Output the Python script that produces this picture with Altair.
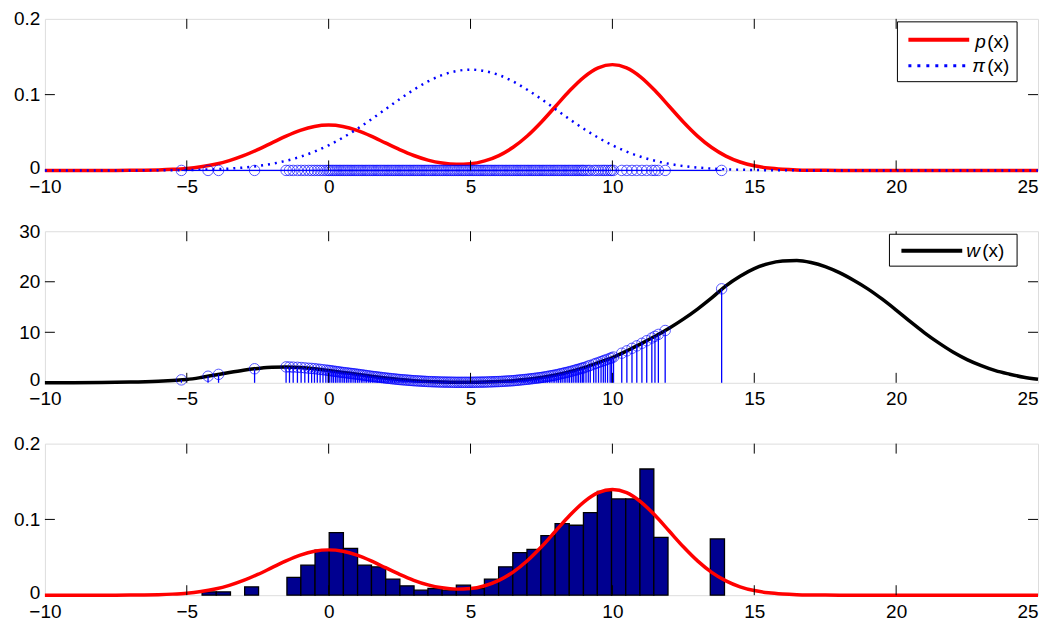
import altair as alt
import pandas as pd

FONT = "Liberation Sans"

# ---------------- data ----------------
x_tick_labels = [-10, -5, 0, 5, 10, 15, 20, 25]
x_inner_ticks = [-5, 0, 5, 10, 15, 20]
y1_tick_labels = [0, 0.1, 0.2]
y1_inner_ticks = [0.1]
y2_tick_labels = [0, 10, 20, 30]
y2_inner_ticks = [10, 20]

curve_x = [-10, -8, -7.5, -7, -6.5, -6, -5.5, -5, -4.5, -4, -3.5, -3, -2.5, -2,
           -1.5, -1, -0.5, 0, 0.5, 1, 1.5, 2, 2.5, 3, 3.5, 4, 4.5, 5, 5.5, 6,
           6.5, 7, 7.5, 8, 8.5, 9, 9.5, 10, 10.5, 11, 11.5, 12, 12.5, 13, 13.5,
           14, 14.5, 15, 15.5, 16, 16.5, 17, 17.5, 18, 20, 25]
p_vals = [0, 0, 0.0, 0.0001, 0.0003, 0.0007, 0.0014, 0.0026, 0.0048, 0.0081,
          0.0129, 0.0194, 0.0274, 0.0363, 0.0452, 0.0528, 0.0580, 0.0598, 0.0580,
          0.0528, 0.0452, 0.0363, 0.0275, 0.0197, 0.0136, 0.0097, 0.0080, 0.0087,
          0.0125, 0.0196, 0.0305, 0.0454, 0.0639, 0.0847, 0.1054, 0.1232, 0.1353,
          0.1396, 0.1353, 0.1232, 0.1054, 0.0847, 0.0639, 0.0453, 0.0302, 0.0189,
          0.0111, 0.0061, 0.0032, 0.0016, 0.0007, 0.0003, 0.0001, 0, 0, 0]
pi_vals = [0, 0, 0, 0, 0.0001, 0.0002, 0.0003, 0.0005, 0.0009, 0.0015, 0.0024,
           0.0038, 0.0058, 0.0087, 0.0127, 0.0180, 0.0248, 0.0332, 0.0432, 0.0547,
           0.0673, 0.0807, 0.0940, 0.1065, 0.1174, 0.1258, 0.1311, 0.1330, 0.1311,
           0.1258, 0.1174, 0.1065, 0.0940, 0.0807, 0.0673, 0.0547, 0.0432, 0.0332,
           0.0248, 0.0180, 0.0127, 0.0087, 0.0058, 0.0038, 0.0024, 0.0015, 0.0009,
           0.0005, 0.0003, 0.0002, 0.0001, 0, 0, 0, 0, 0]

w_x = [-10, -9, -8, -7, -6, -5.5, -5, -4.5, -4, -3.5, -3, -2.5, -2, -1.5, -1,
       -0.5, 0, 0.5, 1, 1.5, 2, 2.5, 3, 3.5, 4, 4.5, 5, 5.5, 6, 6.5, 7, 7.5, 8,
       8.5, 9, 9.5, 10, 10.5, 11, 11.5, 12, 12.5, 13, 13.5, 14, 14.5, 15, 15.5,
       16, 16.5, 17, 17.5, 18, 18.5, 19, 19.5, 20, 20.5, 21, 21.5, 22, 22.5, 23,
       23.5, 24, 24.5, 25]
w_vals = [0.0, 0.02, 0.06, 0.15, 0.33, 0.47, 0.65, 1.05, 1.55, 2.05, 2.5, 2.85,
          3.1, 3.15, 3.05, 2.8, 2.45, 2.05, 1.7, 1.3, 0.95, 0.65, 0.42, 0.25, 0.15,
          0.1, 0.1, 0.15, 0.25, 0.42, 0.7, 1.05, 1.55, 2.2, 3.0, 4.0, 5.0, 6.3, 7.7,
          9.2, 10.8, 12.6, 14.6, 16.8, 19.2, 21.1, 22.6, 23.6, 24.1, 24.2, 23.8,
          23.0, 21.8, 20.3, 18.6, 16.6, 14.4, 12.1, 9.9, 7.9, 6.1, 4.6, 3.4, 2.4,
          1.7, 1.1, 0.7]

# samples (x position, weight w at that sample)
sample_x = [-5.19, -4.25, -3.88, -2.61,
            -1.5, -1.38, -1.25, -1.1, -0.97, -0.84, -0.71, -0.6, -0.5, -0.4, -0.3, -0.2, -0.1, -0.02,
            0.04, 0.11, 0.17, 0.24, 0.3, 0.37, 0.43, 0.5, 0.56, 0.63, 0.69, 0.76, 0.82, 0.89, 0.95,
            1.02, 1.08, 1.15, 1.21, 1.28, 1.34, 1.41, 1.47, 1.54, 1.6, 1.67, 1.73, 1.8, 1.86, 1.93, 1.99,
            2.06, 2.12, 2.19, 2.25, 2.32, 2.38, 2.45, 2.51, 2.58, 2.64, 2.71, 2.77, 2.84, 2.9, 2.97,
            3.03, 3.1, 3.16, 3.23, 3.29, 3.36, 3.42, 3.49, 3.55, 3.62, 3.68, 3.75, 3.81, 3.88, 3.94,
            4.01, 4.07, 4.14, 4.2, 4.27, 4.33, 4.4, 4.46, 4.53, 4.59, 4.66, 4.72, 4.79, 4.85, 4.92, 4.98,
            5.05, 5.11, 5.18, 5.24, 5.31, 5.37, 5.44, 5.5, 5.57, 5.63, 5.7, 5.76, 5.83, 5.89, 5.96,
            6.02, 6.09, 6.15, 6.22, 6.28, 6.35, 6.41, 6.48, 6.54, 6.61, 6.67, 6.74, 6.8, 6.87, 6.93,
            7.0, 7.06, 7.13, 7.19, 7.26, 7.32, 7.39, 7.45, 7.52, 7.58, 7.65, 7.71, 7.78, 7.84, 7.91, 7.97,
            8.04, 8.1, 8.17, 8.23, 8.3, 8.36, 8.43, 8.49, 8.56, 8.62, 8.69, 8.75, 8.81, 8.88, 8.94, 8.99,
            9.07, 9.15, 9.22, 9.34, 9.42, 9.51, 9.6, 9.68, 9.75, 9.83, 9.92, 9.97,
            10.04, 10.33, 10.51, 10.69, 10.86, 11.04, 11.21, 11.39, 11.5, 11.62, 11.86, 13.85]
sample_w = [0.58, 1.3, 1.67, 2.78,
            3.15, 3.13, 3.1, 3.07, 3.02, 2.96, 2.89, 2.85, 2.8, 2.73, 2.66, 2.59, 2.52, 2.46,
            2.42, 2.36, 2.31, 2.26, 2.21, 2.15, 2.1, 2.05, 2.01, 1.96, 1.92, 1.87, 1.83, 1.78, 1.74,
            1.68, 1.64, 1.58, 1.53, 1.48, 1.43, 1.37, 1.32, 1.27, 1.23, 1.18, 1.14, 1.09, 1.05, 1.0, 0.96,
            0.91, 0.88, 0.84, 0.8, 0.76, 0.72, 0.68, 0.64, 0.61, 0.59, 0.55, 0.53, 0.49, 0.47, 0.43,
            0.41, 0.39, 0.37, 0.34, 0.32, 0.3, 0.28, 0.25, 0.24, 0.23, 0.21, 0.2, 0.19, 0.17, 0.16,
            0.15, 0.14, 0.14, 0.13, 0.12, 0.12, 0.11, 0.1, 0.1, 0.1, 0.1, 0.1, 0.1, 0.1, 0.1, 0.1,
            0.1, 0.11, 0.12, 0.12, 0.13, 0.14, 0.14, 0.15, 0.16, 0.18, 0.19, 0.2, 0.22, 0.23, 0.24,
            0.26, 0.27, 0.3, 0.32, 0.35, 0.37, 0.39, 0.41, 0.44, 0.48, 0.52, 0.55, 0.59, 0.63, 0.66,
            0.7, 0.74, 0.79, 0.83, 0.88, 0.92, 0.97, 1.02, 1.07, 1.13, 1.2, 1.26, 1.33, 1.39, 1.46, 1.52,
            1.6, 1.68, 1.77, 1.85, 1.94, 2.02, 2.11, 2.19, 2.3, 2.39, 2.5, 2.6, 2.7, 2.81, 2.9, 2.98,
            3.14, 3.3, 3.44, 3.68, 3.84, 4.02, 4.2, 4.36, 4.5, 4.66, 4.84, 4.94,
            5.1, 5.86, 6.33, 6.83, 7.31, 7.82, 8.33, 8.87, 9.2, 9.58, 10.35, 18.6]

hist_edges = [-4.46, -3.96, -3.46, -2.96, -2.47, -1.97, -1.47, -0.98, -0.48, 0.02,
              0.52, 1.02, 1.51, 2.01, 2.51, 3.01, 3.50, 4.0, 4.5, 5.0,
              5.49, 5.99, 6.49, 6.99, 7.48, 7.98, 8.48, 8.98, 9.47, 9.97,
              10.47, 10.97, 11.46, 11.96, 12.46, 12.95, 13.45, 13.95]
hist_heights = [0.0044, 0.0044, 0, 0.011, 0, 0, 0.0234, 0.0397, 0.0596, 0.0826,
                0.0618, 0.0397, 0.0375, 0.0212, 0.0124, 0.0066, 0.0088, 0.0066, 0.0132, 0.0088,
                0.0212, 0.0375, 0.0561, 0.0605, 0.0786, 0.0945, 0.0923, 0.109, 0.137, 0.127,
                0.127, 0.1665, 0.0764, 0, 0, 0, 0.0742]

# ---------------- tables ----------------
curves = pd.DataFrame({"x": curve_x, "p": p_vals, "pi": pi_vals})
wdf = pd.DataFrame({"x": w_x, "w": w_vals})
samples = pd.DataFrame({"x": sample_x, "w": sample_w, "zero": [0.0] * len(sample_x)})
hist = pd.DataFrame({"left": hist_edges[:-1], "right": hist_edges[1:], "h": hist_heights})
hist = hist[hist["h"] > 0]
one = pd.DataFrame({"a": [0]})

W, H = 996, 152
TICK = 10
LFS = 19

XS = alt.Scale(domain=[-10, 25], nice=False, zero=False)
XAX = alt.Axis(values=x_tick_labels, ticks=False, tickSize=0, domain=False, grid=False,
               title=None, labelFontSize=LFS, labelFont=FONT, labelColor="#000",
               labelPadding=7, format="d", labelOverlap=False, labelFlush=False,
               labelAlign={"condition": {"test": "datum.value == 25", "value": "right"}, "value": "center"})


def xenc(f):
    return alt.X(f"{f}:Q", scale=XS, axis=XAX)


def make_y(dom, vals, fmt):
    scale = alt.Scale(domain=dom, nice=False, zero=True)
    axis = alt.Axis(values=vals, ticks=False, tickSize=0, domain=False, grid=False,
                    title=None, labelFontSize=LFS, labelFont=FONT, labelColor="#000",
                    labelPadding=5, format=fmt, labelOverlap=False, labelFlush=False,
                    labelOffset={"condition": {"test": "datum.value == 0", "value": -3}, "value": 0})

    def yenc(f):
        return alt.Y(f"{f}:Q", scale=scale, axis=axis)
    return yenc


def frame(yenc, inner_y):
    xt = pd.DataFrame({"t": x_inner_ticks})
    yt = pd.DataFrame({"v": inner_y})
    rule = dict(color="black", strokeWidth=1)
    return [
        alt.Chart(xt).mark_rule(**rule).encode(x=xenc("t"), y=alt.value(H), y2=alt.value(H - TICK)),
        alt.Chart(xt).mark_rule(**rule).encode(x=xenc("t"), y=alt.value(0), y2=alt.value(TICK)),
        alt.Chart(yt).mark_rule(**rule).encode(y=yenc("v"), x=alt.value(0), x2=alt.value(TICK)),
        alt.Chart(yt).mark_rule(**rule).encode(y=yenc("v"), x=alt.value(W), x2=alt.value(W - TICK)),
    ]


def legend_box(x1, x2, y1, y2):
    return alt.Chart(one).mark_rect(fill="white", stroke="black", strokeWidth=1).encode(
        x=alt.value(x1), x2=alt.value(x2), y=alt.value(y1), y2=alt.value(y2))


def legend_line(x1, x2, y, color, width, dash=None):
    kw = dict(color=color, strokeWidth=width)
    if dash:
        kw["strokeDash"] = dash
    return alt.Chart(one).mark_rule(**kw).encode(
        x=alt.value(x1), x2=alt.value(x2), y=alt.value(y))


def legend_text(txt, x, y, italic):
    kw = dict(text=txt, font=FONT, fontSize=19, align="left", baseline="middle", color="#000")
    if italic:
        kw["fontStyle"] = "italic"
    return alt.Chart(one).mark_text(**kw).encode(x=alt.value(x), y=alt.value(y))


RED = "#ff0000"
BLUE = "#0000ff"

circle_kw = dict(shape="circle", size=110, color=BLUE, strokeWidth=1, opacity=0.65, filled=False)

# ---------------- panel 1 ----------------
y1 = make_y([0, 0.2], y1_tick_labels, "~g")
p1_layers = [
    alt.Chart(curves).mark_line(color=RED, strokeWidth=3.5, interpolate="monotone").encode(x=xenc("x"), y=y1("p")),
    alt.Chart(curves).mark_line(color=BLUE, strokeWidth=2.5, strokeDash=[2, 5], interpolate="monotone").encode(x=xenc("x"), y=y1("pi")),
    alt.Chart(samples).mark_line(color=BLUE, strokeWidth=1.3).encode(x=xenc("x"), y=y1("zero")),
    alt.Chart(samples).mark_point(**circle_kw).encode(x=xenc("x"), y=y1("zero")),
] + frame(y1, y1_inner_ticks) + [
    legend_box(855, 975, 3, 63),
    legend_line(866, 927, 21, RED, 4),
    legend_text("p", 933, 23, True),
    legend_text("(x)", 945, 23, False),
    legend_line(866, 926, 47, BLUE, 3, [3, 6]),
    legend_text("π", 930, 47, True),
    legend_text("(x)", 945, 47, False),
]
panel1 = alt.layer(*p1_layers).properties(width=W, height=H)

# ---------------- panel 2 ----------------
y2 = make_y([0, 30], y2_tick_labels, "d")
p2_layers = [
    alt.Chart(wdf).mark_line(color="black", strokeWidth=3.5, interpolate="monotone").encode(x=xenc("x"), y=y2("w")),
    alt.Chart(samples).mark_rule(color=BLUE, strokeWidth=1.3).encode(x=xenc("x"), y=y2("zero"), y2="w:Q"),
    alt.Chart(samples).mark_point(**circle_kw).encode(x=xenc("x"), y=y2("w")),
] + frame(y2, y2_inner_ticks) + [
    legend_box(847, 975, 3, 35),
    legend_line(859, 920, 19.5, "black", 4),
    legend_text("w", 924, 20, True),
    legend_text("(x)", 940, 20, False),
]
panel2 = alt.layer(*p2_layers).properties(width=W, height=H)

# ---------------- panel 3 ----------------
y3 = make_y([0, 0.2], y1_tick_labels, "~g")
p3_layers = [
    alt.Chart(hist).mark_rect(color="#000090", stroke="black", strokeWidth=1.3).encode(
        x=xenc("left"), x2="right:Q", y=y3("h"), y2=alt.datum(0)),
    alt.Chart(curves).mark_line(color=RED, strokeWidth=3.5, interpolate="monotone").encode(x=xenc("x"), y=y3("p")),
] + frame(y3, y1_inner_ticks)
panel3 = alt.layer(*p3_layers).properties(width=W, height=H)

chart = alt.vconcat(panel1, panel2, panel3, spacing=61, bounds="flush").properties(
    padding={"left": 5, "top": 0, "right": 0, "bottom": 0}
).configure_view(stroke="black", strokeWidth=1).configure(background="white")

chart.save("out.html", embed_options={"renderer": "svg", "actions": False})
